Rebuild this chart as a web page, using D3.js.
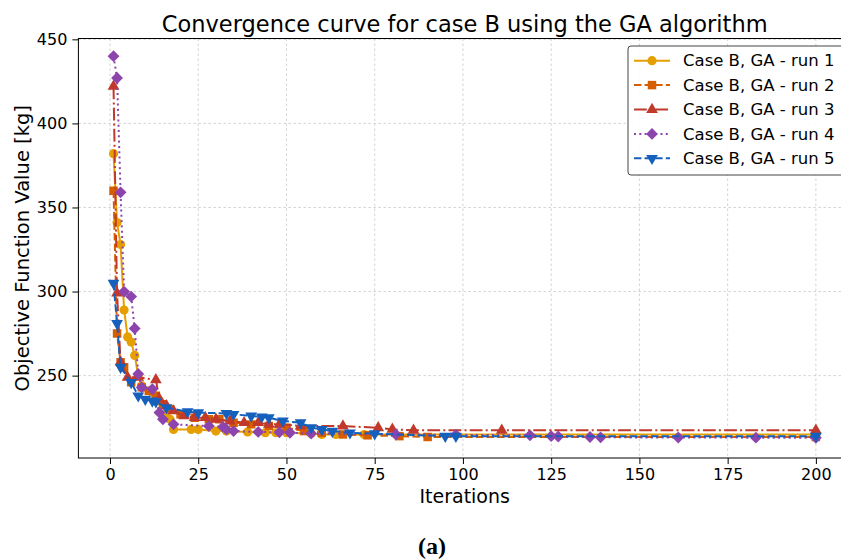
<!DOCTYPE html>
<meta charset="utf-8">
<style>
body { margin: 0; background: #fff; }
text { font-family: "DejaVu Sans", sans-serif; fill: #000; }
.grid line { stroke: #c8c8c8; stroke-width: 0.8; stroke-dasharray: 2.5,2.5; }
.axis path, .axis line { stroke: #000; stroke-width: 1; }
.axis text { font-size: 16px; }
</style>
<body>
<script src="https://cdn.jsdelivr.net/npm/d3@7"></script>
<script>

// data
var run1Iter = [1, 2, 3, 4, 5, 6, 7, 8, 9, 12, 14, 16, 17, 18, 23, 25, 30, 33, 39, 44, 47, 50, 57, 60, 64, 72, 200];
var run1Vals = [382, 341, 328, 289, 273, 270, 262, 250, 244, 240, 235, 228, 224, 218, 218, 218, 217, 217, 216.5, 216, 216, 216, 215.5, 215, 215, 215, 215];

var run2Iter = [1, 2, 3, 4, 6, 9, 11, 13, 15, 17, 20, 24, 28, 31, 35, 40, 45, 50, 55, 60, 66, 73, 82, 90, 200];
var run2Vals = [360, 275, 258, 255, 246, 243, 241, 238, 233, 230, 227, 225, 224, 224, 222, 221, 220, 219, 217, 216, 215, 214.5, 214, 213.5, 213.5];

var run3Iter = [1, 2, 3, 5, 8, 13, 14, 16, 18, 21, 24, 27, 30, 34, 38, 42, 45, 48, 54, 66, 76, 80, 86, 111, 200];
var run3Vals = [422, 299, 258, 249, 249, 247.5, 236, 232, 229, 226, 225, 225, 224, 223, 222, 222, 221, 221, 220, 220, 219, 218, 217.5, 217.5, 217.5];

var run4Iter = [1, 2, 3, 4, 6, 7, 8, 9, 12, 14, 15, 18, 28, 32, 33, 35, 42, 48, 51, 57, 81, 98, 119, 125, 127, 136, 139, 161, 183, 200];
var run4Vals = [440, 427, 359, 300, 297, 278, 251, 243, 242, 228, 224, 221, 220, 219.5, 218, 217, 216.5, 216.3, 216, 215.5, 215, 214.8, 214.5, 214, 213.8, 213.5, 213.3, 213.2, 213.1, 213];

var run5Iter = [1, 2, 3, 6, 8, 10, 12, 13, 16, 22, 25, 33, 35, 40, 43, 45, 49, 54, 57, 60, 63, 68, 75, 95, 98, 200];
var run5Vals = [305, 281, 255, 246, 238, 236, 235, 234.5, 231, 228.5, 228, 227.5, 227, 226, 225.5, 225, 223, 222, 219, 218, 217, 216, 215.5, 214, 214, 214];

var xTicks = [0, 25, 50, 75, 100, 125, 150, 175, 200];
var yTicks = [250, 300, 350, 400, 450];
var runLabels = ["Case B, GA - run 1", "Case B, GA - run 2", "Case B, GA - run 3", "Case B, GA - run 4", "Case B, GA - run 5"];

var runs = [
  {label: runLabels[0], iter: run1Iter, vals: run1Vals, color: "#e69f00", dash: null, symbol: "circle"},
  {label: runLabels[1], iter: run2Iter, vals: run2Vals, color: "#d55e00", dash: "7.4,3.2", symbol: "square"},
  {label: runLabels[2], iter: run3Iter, vals: run3Vals, color: "#c0392b", dash: "12.8,3.2,2,3.2", symbol: "triUp"},
  {label: runLabels[3], iter: run4Iter, vals: run4Vals, color: "#8e44ad", dash: "2,3.3", symbol: "diamond"},
  {label: runLabels[4], iter: run5Iter, vals: run5Vals, color: "#1560bd", dash: "7.4,3.2", symbol: "triDown"}
];

var W = 841, H = 559;
var pLeft = 78.4, pRight = 851, pTop = 38.5, pBottom = 458;

var x = d3.scaleLinear().domain([-8.95, 209.95]).range([pLeft, pRight]);
var y = d3.scaleLinear().domain([201, 450.5]).range([pBottom, pTop]);

var svg = d3.select("body").append("svg")
    .attr("width", W)
    .attr("height", H);

svg.append("defs").append("clipPath").attr("id", "plot")
  .append("rect")
    .attr("x", pLeft).attr("y", pTop)
    .attr("width", pRight - pLeft).attr("height", pBottom - pTop);

// grid
var grid = svg.append("g").attr("class", "grid");
grid.selectAll("line.v").data(xTicks).enter().append("line")
    .attr("class", "v")
    .attr("x1", function(d) { return x(d); }).attr("x2", function(d) { return x(d); })
    .attr("y1", pTop).attr("y2", pBottom);
grid.selectAll("line.h").data(yTicks).enter().append("line")
    .attr("class", "h")
    .attr("x1", pLeft).attr("x2", pRight)
    .attr("y1", function(d) { return y(d); }).attr("y2", function(d) { return y(d); });

function symbolPath(type) {
  if (type == "circle") return d3.symbol(d3.symbolCircle, 66)();
  if (type == "square") return d3.symbol(d3.symbolSquare, 72)();
  if (type == "diamond") return d3.symbol(d3.symbolSquare, 70)();
  return d3.symbol(d3.symbolTriangle, 60)();
}
function symbolRotate(type) {
  if (type == "diamond") return " rotate(45)";
  if (type == "triDown") return " rotate(180)";
  return "";
}

var line = d3.line()
    .x(function(d) { return x(d[0]); })
    .y(function(d) { return y(d[1]); });

var plot = svg.append("g").attr("clip-path", "url(#plot)");

runs.forEach(function(r) {
  var pts = r.iter.map(function(it, i) { return [it, r.vals[i]]; });
  var g = plot.append("g");
  g.append("path")
      .datum(pts)
      .attr("d", line)
      .attr("fill", "none")
      .attr("stroke", r.color)
      .attr("stroke-width", 2)
      .attr("stroke-dasharray", r.dash);
  g.selectAll("path.m")
      .data(pts)
    .enter().append("path")
      .attr("class", "m")
      .attr("d", symbolPath(r.symbol))
      .attr("fill", r.color)
      .attr("transform", function(d) { return "translate(" + x(d[0]) + "," + y(d[1]) + ")" + symbolRotate(r.symbol); });
});

// axes
svg.append("g")
    .attr("class", "axis")
    .attr("transform", "translate(0," + pBottom + ")")
    .call(d3.axisBottom(x).tickValues(xTicks).tickSize(6).tickPadding(5))
    .call(function(g) { g.select(".domain").remove(); });

svg.append("g")
    .attr("class", "axis")
    .attr("transform", "translate(" + pLeft + ",0)")
    .call(d3.axisLeft(y).tickValues(yTicks).tickSize(6).tickPadding(5))
    .call(function(g) { g.select(".domain").remove(); });

// frame
svg.append("rect")
    .attr("x", pLeft).attr("y", pTop)
    .attr("width", pRight - pLeft).attr("height", pBottom - pTop)
    .attr("fill", "none").attr("stroke", "#000").attr("stroke-width", 1);

// labels
svg.append("text")
    .attr("x", (pLeft + pRight) / 2).attr("y", 32)
    .attr("text-anchor", "middle")
    .style("font-size", "22.5px")
    .text("Convergence curve for case B using the GA algorithm");

svg.append("text")
    .attr("x", (pLeft + pRight) / 2).attr("y", 503)
    .attr("text-anchor", "middle")
    .style("font-size", "19px")
    .text("Iterations");

svg.append("text")
    .attr("transform", "translate(29," + (pTop + pBottom) / 2 + ") rotate(-90)")
    .attr("text-anchor", "middle")
    .style("font-size", "19.5px")
    .text("Objective Function Value [kg]");

svg.append("text")
    .attr("x", 432).attr("y", 554)
    .attr("text-anchor", "middle")
    .style("font-family", "'Liberation Serif', serif")
    .style("font-weight", "bold")
    .style("font-size", "24px")
    .text("(a)");

// legend
var legend = svg.append("g");
legend.append("rect")
    .attr("x", 628).attr("y", 46)
    .attr("width", 240).attr("height", 129)
    .attr("rx", 3)
    .attr("fill", "#fff").attr("fill-opacity", 0.9)
    .attr("stroke", "#444").attr("stroke-width", 1);

var rows = legend.selectAll("g.row")
    .data(runs)
  .enter().append("g")
    .attr("transform", function(d, i) { return "translate(0," + (60.7 + i * 24.4) + ")"; });

rows.append("line")
    .attr("x1", 634).attr("x2", 670)
    .attr("stroke", function(d) { return d.color; })
    .attr("stroke-width", 2)
    .attr("stroke-dasharray", function(d) { return d.dash; });
rows.append("path")
    .attr("d", function(d) { return symbolPath(d.symbol); })
    .attr("fill", function(d) { return d.color; })
    .attr("transform", function(d) { return "translate(652,0)" + symbolRotate(d.symbol); });
rows.append("text")
    .attr("x", 683).attr("dy", "0.35em")
    .style("font-size", "16.5px")
    .text(function(d) { return d.label; });

</script>
